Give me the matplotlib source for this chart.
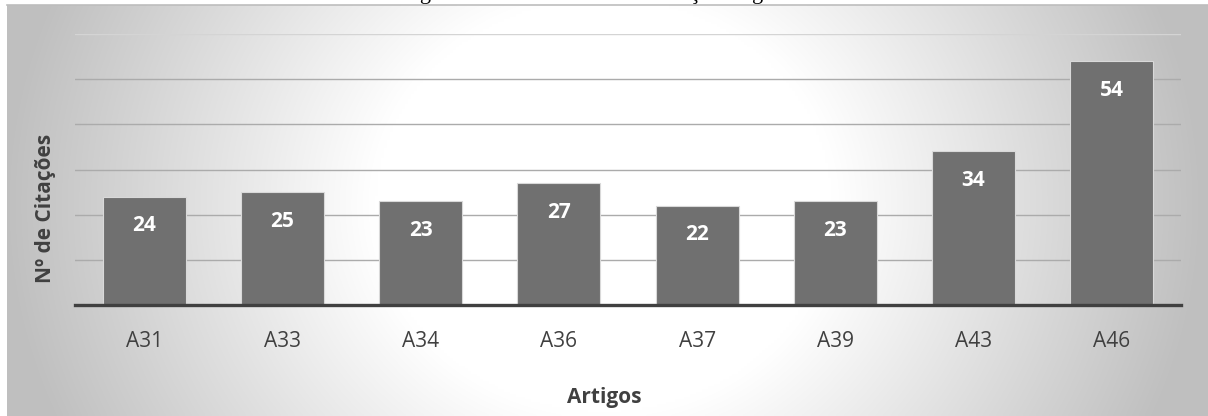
import numpy as np
import matplotlib
matplotlib.use('Agg')
import matplotlib.pyplot as plt

# data
artigos = ['A31', 'A33', 'A34', 'A36', 'A37', 'A39', 'A43', 'A46']
citacoes = [24, 25, 23, 27, 22, 23, 34, 54]

titulo = 'Artigos com maior número de citações registadas'

plt.rcParams['font.family'] = ['Open Sans', 'DejaVu Sans']

W, H = 1208, 416
fig = plt.figure(figsize=(W / 100, H / 100), dpi=100)
fig.patch.set_facecolor('white')

# chart frame with radial gradient (white middle, grey edges)
bg = fig.add_axes([7 / W, 0, 1 - 7 / W, (H - 5) / H])
xx, yy = np.meshgrid(np.linspace(7, W, 400), np.linspace(5, H, 160))
r = np.sqrt((xx - 604) ** 2 + ((yy - 205) * 1.1) ** 2)
t = np.clip((r - 230) / (600 - 230), 0, 1)
shade = 1 - 0.25 * t
bg.imshow(np.dstack([shade, shade, shade]), aspect='auto',
          extent=[0, 1, 0, 1], interpolation='bilinear')
bg.set_xlim(0, 1)
bg.set_ylim(0, 1)
bg.axis('off')
fig.add_artist(plt.Line2D([7 / W, 1], [(H - 5) / H, (H - 5) / H],
                          color='#bdbdbd', lw=1.2))

# title mostly cut off above the picture (as in the source)
fig.text(604 / W, 1 + 1.5 / H, titulo, ha='center', va='baseline',
         family='Liberation Serif', fontsize=16, color='black')

ax = fig.add_axes([75 / W, (H - 305) / H, (1181 - 75) / W, (305 - 34) / H])
ax.patch.set_alpha(0)

x = np.arange(len(artigos))
bars = ax.bar(x, citacoes, width=0.6, color='#707070',
              edgecolor='#d9d9d9', linewidth=0.8, zorder=3)

for b, v in zip(bars, citacoes):
    ax.annotate(str(v), (b.get_x() + b.get_width() / 2, v),
                xytext=(0, -21), textcoords='offset points',
                ha='center', va='center', color='white',
                fontsize=15, fontweight='bold', zorder=4)

ax.set_xlim(-0.5, len(artigos) - 0.5)
ax.set_ylim(0, 60)
ax.set_yticks(np.arange(10, 61, 10))
ax.yaxis.grid(True, color='#ababab', lw=1.0, zorder=1)
ax.get_ygridlines()[-1].set_color('#d4d4d4')
ax.tick_params(axis='y', left=False, labelleft=False)

ax.set_xticks(x)
ax.set_xticklabels(artigos, fontsize=15, color='#404040')
ax.tick_params(axis='x', length=0, pad=19)

for s in ['top', 'right', 'left']:
    ax.spines[s].set_visible(False)
ax.spines['bottom'].set_color('#404040')
ax.spines['bottom'].set_linewidth(2.4)
ax.spines['bottom'].set_zorder(5)

fig.text(604 / W, 1 - 397 / H, 'Artigos', ha='center', va='center',
         fontsize=15, fontweight='bold', color='#404040')
fig.text(46 / W, 1 - 208 / H, 'N\u00ba de Citações', ha='center', va='center',
         rotation=90, fontsize=15, fontweight='bold', color='#404040')

fig.savefig('out.png', dpi=100)
